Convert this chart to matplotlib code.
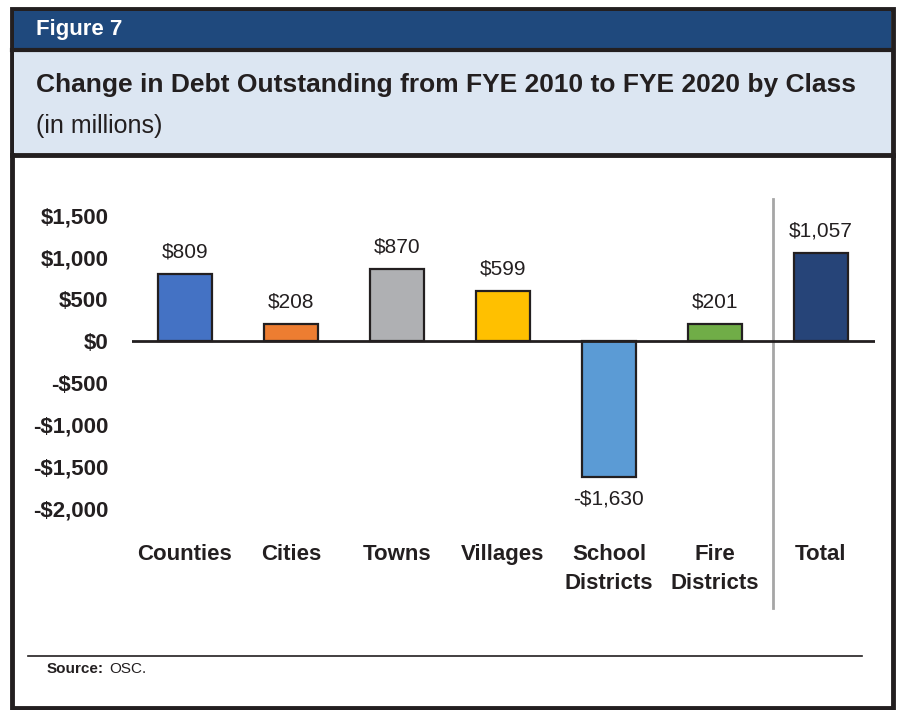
import matplotlib
matplotlib.use('Agg')
import matplotlib.pyplot as plt
from matplotlib.patches import Rectangle
from matplotlib.lines import Line2D

plt.rcParams['font.family'] = ['Liberation Sans', 'DejaVu Sans']

# data
categories = ['Counties', 'Cities', 'Towns', 'Villages', 'School\nDistricts', 'Fire\nDistricts', 'Total']
values = [809, 208, 870, 599, -1630, 201, 1057]
value_labels = ['$809', '$208', '$870', '$599', '-$1,630', '$201', '$1,057']
colors = ['#4472C4', '#ED7D31', '#AFB0B3', '#FFC000', '#5B9BD5', '#70AD47', '#264478']
yticks = [1500, 1000, 500, 0, -500, -1000, -1500, -2000]
ytick_labels = ['$1,500', '$1,000', '$500', '$0', '-$500', '-$1,000', '-$1,500', '-$2,000']

W, H = 897, 710
fig = plt.figure(figsize=(W / 100, H / 100), dpi=100)


def fx(px):
    return px / W


def fy(py):
    return 1 - py / H


# frame and header bands
fig.patches.append(Rectangle((fx(12), fy(708)), fx(881), fy(9) - fy(708), transform=fig.transFigure,
                             facecolor='white', edgecolor='#231f20', linewidth=3.5, zorder=0))
fig.patches.append(Rectangle((fx(14), fy(48)), fx(877), fy(11) - fy(48), transform=fig.transFigure,
                             facecolor='#1F497D', edgecolor='none', zorder=1))
fig.patches.append(Rectangle((fx(14), fy(153)), fx(877), fy(51) - fy(153), transform=fig.transFigure,
                             facecolor='#DCE6F2', edgecolor='none', zorder=1))
fig.lines.append(Line2D([fx(12), fx(893)], [fy(49.5), fy(49.5)], transform=fig.transFigure,
                        color='#231f20', linewidth=3, zorder=2))
fig.lines.append(Line2D([fx(12), fx(893)], [fy(154.5), fy(154.5)], transform=fig.transFigure,
                        color='#231f20', linewidth=3.5, zorder=2))

fig.text(fx(36), fy(30), 'Figure 7', color='white', fontsize=16, fontweight='bold', va='center', ha='left')
fig.text(fx(36), fy(85), 'Change in Debt Outstanding from FYE 2010 to FYE 2020 by Class',
         color='#231f20', fontsize=19, fontweight='bold', va='center', ha='left')
fig.text(fx(36), fy(126), '(in millions)', color='#231f20', fontsize=18, va='center', ha='left')

# source
fig.lines.append(Line2D([fx(28), fx(862)], [fy(655.5), fy(655.5)], transform=fig.transFigure,
                        color='#231f20', linewidth=1.2, zorder=2))
fig.text(fx(47), fy(669), 'Source:', fontsize=11, fontweight='bold', va='center', ha='left', color='#231f20')
fig.text(fx(109), fy(669), 'OSC.', fontsize=11, va='center', ha='left', color='#231f20')

# chart
ax = fig.add_axes([fx(132), fy(508), fx(875) - fx(132), fy(216) - fy(508)], zorder=5)
ax.patch.set_alpha(0)
x = list(range(len(categories)))
ax.bar(x, values, width=0.51, color=colors, edgecolor='#231f20', linewidth=1.6, zorder=3)
ax.axhline(0, color='#231f20', linewidth=2, zorder=4)
ax.set_xlim(-0.5, 6.51)
ax.set_ylim(-2000, 1500)
for xi, v, lab in zip(x, values, value_labels):
    off = 150 if v >= 0 else -150
    ax.text(xi, v + off, lab, ha='center', va='bottom' if v >= 0 else 'top', fontsize=15,
            color='#231f20', clip_on=False)

ax.plot([5.55, 5.55], [1704, -3204], color='#a6a6a6', linewidth=2, clip_on=False, zorder=2)

ax.set_yticks(yticks)
ax.set_yticklabels(ytick_labels, fontsize=16, fontweight='bold', color='#231f20')
ax.set_xticks(x)
ax.set_xticklabels(categories, fontsize=16, fontweight='bold', color='#231f20', linespacing=1.5)
ax.tick_params(axis='y', length=0, pad=17)
ax.tick_params(axis='x', length=0, pad=26)
for s in ax.spines.values():
    s.set_visible(False)

fig.savefig('out.png', dpi=100)
